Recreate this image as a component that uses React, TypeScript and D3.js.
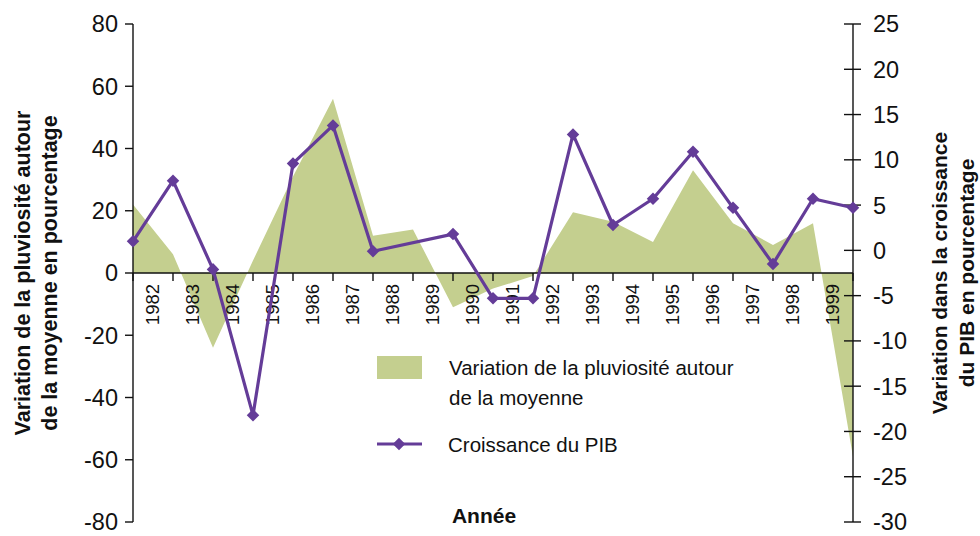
import React from 'react';
import * as d3 from 'd3';

// Category labels (placed between tick marks)
const years = ['1982','1983','1984','1985','1986','1987','1988','1989','1990','1991','1992','1993','1994','1995','1996','1997','1998','1999'];
// Rainfall variation around the mean (%), left axis — one value per tick mark
const rainfall = [22, 6, -24, 4, 31, 56, 12, 14, -11, -5, -1, 19.5, 16.5, 10, 33, 16, 9, 16, -59];
// GDP growth (%), right axis — null = missing point (line connects across)
const gdpGrowth: (number | null)[] = [1, 7.7, -2.1, -18.2, 9.6, 13.8, -0.1, null, 1.8, -5.3, -5.3, 12.8, 2.8, 5.7, 10.9, 4.7, -1.5, 5.7, 4.7];
const leftTicks = [80, 60, 40, 20, 0, -20, -40, -60, -80];
const rightTicks = [25, 20, 15, 10, 5, 0, -5, -10, -15, -20, -25, -30];

const leftTitle = ['Variation de la pluviosité autour', 'de la moyenne en pourcentage'];
const rightTitle = ['Variation dans la croissance', 'du PIB en pourcentage'];
const xTitle = 'Année';
const legendRain = ['Variation de la pluviosité autour', 'de la moyenne'];
const legendGdp = 'Croissance du PIB';

const W = 980, H = 536;
const X0 = 133, X1 = 853, YT = 24, YB = 522;
const GREEN = '#c4cf8f';
const PURPLE = '#643c98';
const INK = '#111';
const FONT = '"Liberation Sans", Arial, sans-serif';

export default function App() {
  const x = d3.scaleLinear().domain([0, rainfall.length - 1]).range([X0, X1]);
  const yL = d3.scaleLinear().domain([-80, 80]).range([YB, YT]);
  const yR = d3.scaleLinear().domain([-30, 25]).range([YB, YT]);

  const areaPath = d3.area<number>()
    .x((_, i) => x(i))
    .y0(yL(0))
    .y1(d => yL(d))(rainfall) || '';

  const gdpPts = gdpGrowth
    .map((v, i) => ({ i, v }))
    .filter(d => d.v !== null) as { i: number; v: number }[];
  const linePath = d3.line<{ i: number; v: number }>()
    .x(d => x(d.i))
    .y(d => yR(d.v))(gdpPts) || '';
  const diamond = d3.symbol().type(d3.symbolDiamond2).size(100)() || '';

  const tickIdx = d3.range(rainfall.length);

  return (
    <svg width={W} height={H} style={{ position: 'absolute', left: 0, top: 0, background: '#fff' }}
      fontFamily={FONT}>
      <rect x={0} y={0} width={W} height={H} fill="#fff" />
      <path d={areaPath} fill={GREEN} />

      {/* x axis at left zero */}
      <line x1={X0} x2={X1} y1={yL(0)} y2={yL(0)} stroke={INK} strokeWidth={1.4} />
      {tickIdx.map(i => (
        <line key={'xt' + i} x1={x(i)} x2={x(i)} y1={yL(0)} y2={yL(0) + 8} stroke={INK} strokeWidth={1.4} />
      ))}
      {years.map((yr, i) => (
        <text key={'xl' + yr} transform={`translate(${x(i + 0.5)},${yL(0) + 11}) rotate(-90)`}
          textAnchor="end" dy="0.35em" fontSize={18.5} fill={INK}>{yr}</text>
      ))}

      {/* left axis */}
      <line x1={X0} x2={X0} y1={YT} y2={YB} stroke={INK} strokeWidth={1.4} />
      {leftTicks.map(t => (
        <g key={'lt' + t}>
          <line x1={X0 - 8} x2={X0} y1={yL(t)} y2={yL(t)} stroke={INK} strokeWidth={1.4} />
          <text x={118} y={yL(t)} dy="0.36em" textAnchor="end" fontSize={23.5} fill={INK}>{t}</text>
        </g>
      ))}

      {/* right axis */}
      <line x1={X1} x2={X1} y1={YT} y2={YB} stroke={INK} strokeWidth={1.4} />
      {rightTicks.map(t => (
        <g key={'rt' + t}>
          <line x1={X1 - 9} x2={X1 + 8} y1={yR(t)} y2={yR(t)} stroke={INK} strokeWidth={1.4} />
          <text x={873} y={yR(t)} dy="0.36em" textAnchor="start" fontSize={23.5} fill={INK}>{t}</text>
        </g>
      ))}

      {/* GDP line */}
      <path d={linePath} fill="none" stroke={PURPLE} strokeWidth={3.2} strokeLinejoin="round" />
      {gdpPts.map(d => (
        <path key={'m' + d.i} d={diamond} transform={`translate(${x(d.i)},${yR(d.v)})`} fill={PURPLE} />
      ))}

      {/* axis titles */}
      {leftTitle.map((s, k) => (
        <text key={'ltt' + k} transform={`translate(${k === 0 ? 30 : 57},${(YT + YB) / 2}) rotate(-90)`}
          textAnchor="middle" fontSize={21.5} fontWeight="bold" fill={INK}>{s}</text>
      ))}
      {rightTitle.map((s, k) => (
        <text key={'rtt' + k} transform={`translate(${k === 0 ? 947 : 974},${(YT + YB) / 2}) rotate(-90)`}
          textAnchor="middle" fontSize={21} fontWeight="bold" fill={INK}>{s}</text>
      ))}
      <text x={484} y={523} textAnchor="middle" fontSize={21} fontWeight="bold" fill={INK}>{xTitle}</text>

      {/* legend */}
      <rect x={377} y={356} width={45} height={23} fill={GREEN} />
      <text x={449} y={375} fontSize={20.5} fill={INK}>{legendRain[0]}</text>
      <text x={449} y={405} fontSize={20.5} fill={INK}>{legendRain[1]}</text>
      <line x1={377} x2={422} y1={444} y2={444} stroke={PURPLE} strokeWidth={3} />
      <path d={diamond} transform="translate(399,444)" fill={PURPLE} />
      <text x={448} y={452} fontSize={20.5} fill={INK}>{legendGdp}</text>
    </svg>
  );
}
